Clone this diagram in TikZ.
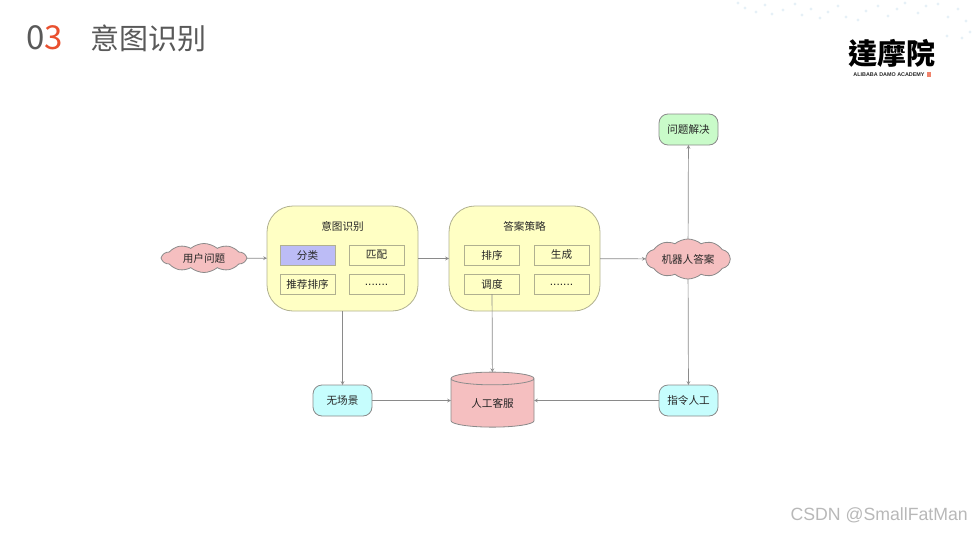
\documentclass[tikz,border=0pt]{standalone}
\usepackage{fontspec}
\setmainfont{Noto Sans CJK SC}
\newfontfamily\logofont{Noto Sans CJK TC}
\newfontfamily\wmfont{Liberation Sans}
\usepackage{tikz}
\usetikzlibrary{positioning,arrows,shapes.geometric,shapes.symbols}

\definecolor{titlegray}{HTML}{595959}
\definecolor{titlered}{HTML}{E9502F}
\definecolor{edgegray}{HTML}{8A8A8A}
\definecolor{yellowfill}{HTML}{FFFFC4}
\definecolor{yellowline}{HTML}{B0B090}
\definecolor{bluefill}{HTML}{BCBCF6}
\definecolor{pinkfill}{HTML}{F5BFC0}
\definecolor{greenfill}{HTML}{C9FBC9}
\definecolor{cyanfill}{HTML}{C6FDFD}
\definecolor{speck}{HTML}{E6F0F7}

\tikzset{
	txt/.style={font=\fontsize{10.6}{12}\selectfont,text=black!85},
	bigbox/.style={draw=yellowline,line width=.8pt,fill=yellowfill,rounded corners=26pt,minimum width=151pt,minimum height=105pt,inner sep=0pt,outer sep=0pt},
	subbox/.style={txt,draw=yellowline,line width=.8pt,fill=yellowfill,minimum width=55pt,minimum height=20pt,inner sep=0pt,outer sep=0pt},
	dots/.style={font=\wmfont\fontsize{12}{12}\selectfont},
	endbox/.style={txt,draw=edgegray,line width=.8pt,rounded corners=9pt,minimum width=59pt,minimum height=31pt,inner sep=0pt,outer sep=0pt},
	puff/.style={txt,cloud,cloud puffs=10,cloud puff arc=80,aspect=3,draw=edgegray,line width=.8pt,fill=pinkfill,inner sep=0pt,outer sep=0pt},
	link/.style={draw=edgegray,line width=.7pt,-stealth}
}

\begin{document}
\begin{tikzpicture}[x=1pt,y=-1pt]
	\useasboundingbox (0,0) rectangle (973,532);

	%background specks
	\foreach \sx/\sy in {738/3,745/8,756/12,765/5,772/14,783/10,795/4,802/15,811/9,820/18,828/12,838/6,846/17,858/20,866/11,878/6,888/16,897/9,905/3,918/13,926/6,938/4,948/17,958/9,966/21,970/32,947/36,962/38}
		\fill[speck] (\sx,\sy) circle (1.6pt);

	%title and logo
	\node[anchor=west,font=\fontsize{33}{36}\selectfont,text=titlegray,inner sep=0pt] (num) at (26,38) {0\textcolor{titlered}{3}};
	\node[anchor=west,font=\fontsize{29}{32}\selectfont,text=titlegray,inner sep=0pt] (title) at (90,38) {意图识别};
	\node[font=\logofont\bfseries\fontsize{29}{30}\selectfont,text=black,inner sep=0pt] (logo) at (892,53) {達摩院};
	\node[font=\wmfont\bfseries\fontsize{5.4}{6}\selectfont,text=black!85,inner sep=0pt] (logosub) at (889,75) {ALIBABA DAMO ACADEMY};
	\node[fill=titlered!70,minimum width=3.5pt,minimum height=5pt,inner sep=0pt] (seal) at (929,75) {};

	%left box
	\node[bigbox] (intent) at (342.5,258.5) {};
	\node[txt] (intenttitle) at (342.5,226) {意图识别};
	\node[subbox,fill=bluefill] (classify) at (307.5,255) {分类};
	\node[subbox] (match) at (376.5,255) {匹配};
	\node[subbox] (rank) at (307.5,284) {推荐排序};
	\node[subbox,dots] (moreleft) at (376.5,284) {\raisebox{-3pt}{.......}};

	%right box
	\node[bigbox] (answer) at (524.5,258.5) {};
	\node[txt] (answertitle) at (524.5,226) {答案策略};
	\node[subbox] (sort) at (492,255) {排序};
	\node[subbox] (gen) at (561.5,255) {生成};
	\node[subbox] (sched) at (492,284) {调度};
	\node[subbox,dots] (moreright) at (561.5,284) {\raisebox{-3pt}{.......}};

	%clouds
	\node[puff,minimum width=84pt,minimum height=29pt] (user) at (204,258) {用户问题};
	\node[puff,minimum width=84pt,minimum height=40pt] (robot) at (688,259) {机器人答案};

	%outcome nodes
	\node[endbox,fill=greenfill] (solved) at (688.5,129.5) {问题解决};
	\node[endbox,fill=cyanfill] (noscene) at (342.5,400.5) {无场景};
	\node[endbox,fill=cyanfill] (order) at (688.5,400.5) {指令人工};
	\node[txt,cylinder,shape border rotate=90,aspect=.3,draw=edgegray,line width=.8pt,minimum width=83pt,minimum height=55pt,inner sep=0pt,outer sep=0pt,cylinder uses custom fill,cylinder body fill=pinkfill,cylinder end fill=pinkfill] (staff) at (492.5,403) {人工客服};

	%edges
	\draw[link] (user) -- (intent);
	\draw[link] (intent) -- (answer);
	\draw[link] (answer) -- (robot);
	\draw[link] (robot) -- (solved);
	\draw[link] (robot) -- (order);
	\draw[link] (intent) -- (noscene);
	\draw[link] (sched) -- (staff);
	\draw[link] (noscene) -- (noscene -| staff.west);
	\draw[link] (order) -- (order -| staff.east);

	%watermark
	\node[anchor=east,font=\wmfont\fontsize{17.7}{20}\selectfont,text=black!28,inner sep=0pt] (mark) at (968,515) {CSDN @SmallFatMan};
\end{tikzpicture}
\end{document}
